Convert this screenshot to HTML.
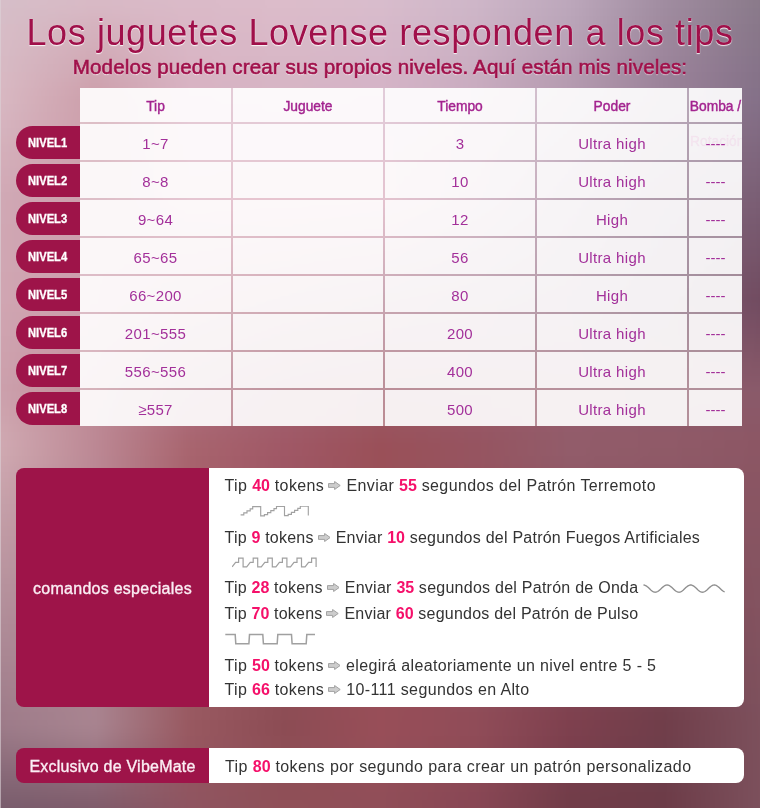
<!DOCTYPE html>
<html><head><meta charset="utf-8">
<style>
*{margin:0;padding:0;box-sizing:border-box}
html,body{width:760px;height:809px;overflow:hidden;background:#a0707c}
body{position:relative;font-family:"Liberation Sans",sans-serif}
#bg{position:absolute;left:0;top:0;width:760px;height:809px;filter:blur(4px)}
#bg div{position:absolute;left:-20px;width:800px;height:8px;background-size:800px 8px}
#bgwrap{position:absolute;left:0;top:0;width:760px;height:809px;overflow:hidden}
.abs{position:absolute}
.title{position:absolute;left:0;width:760px;text-align:center;color:#a0104a;white-space:nowrap}
#t1{top:13px;font-size:36px;line-height:40px;letter-spacing:0.6px;text-shadow:0 1px 1px rgba(255,255,255,.85),0 0 1px rgba(255,255,255,.6)}
#t2{top:55px;letter-spacing:0.1px;font-size:20.6px;line-height:24px;-webkit-text-stroke:0.6px #a0104a;text-shadow:0 1px 1px rgba(255,255,255,.8)}
#tbl{position:absolute;left:80px;top:88px;width:662px;height:338px;overflow:hidden}
.gap{position:absolute;background:rgba(255,255,255,.33)}
.c{position:absolute;background:rgba(255,255,255,.87);text-align:center;white-space:nowrap;overflow:visible}
.h{color:#a3238f;font-size:13.8px;-webkit-text-stroke:0.4px #a3238f}
.d{color:#a3309a;font-size:15px;letter-spacing:0.35px}
.lab{position:absolute;left:16px;width:64px;height:33px;background:#9e1449;border-radius:16.5px 0 0 16.5px;color:#fff;font-weight:bold;font-size:13px;line-height:33px;white-space:nowrap}
.lab span{position:absolute;left:12px;top:0.8px;transform:scaleX(0.86);transform-origin:0 50%;-webkit-text-stroke:0.3px #fff}
.pl{position:absolute;background:#9e1449;color:#fbeef4}
.pr{position:absolute;background:#fff;color:#333}
.ln{position:absolute;left:224.5px;font-size:16px;line-height:25px;letter-spacing:0.33px;white-space:nowrap;color:#333}
.n{color:#f5106a;font-weight:bold;letter-spacing:0}
.arr{display:inline-block;width:12.6px;height:9px;vertical-align:1px;margin:0 0.8px 0 -0.8px}
</style></head><body>
<div id="bgwrap"><div id="bg">
<div style="top:-48px;background:linear-gradient(90deg,#d6bec8 20px,#d8bac6 115px,#dabac8 210px,#dcbcca 305px,#d8bccc 400px,#ceb6c8 495px,#bca8bc 590px,#a08ca0 685px,#8a7a8a 780px)"></div>
<div style="top:-40px;background:linear-gradient(90deg,#d6bec8 20px,#d8bac6 115px,#dabac8 210px,#dcbcca 305px,#d8bccc 400px,#ceb6c8 495px,#bca8bc 590px,#a08ca0 685px,#8a7a8a 780px)"></div>
<div style="top:-32px;background:linear-gradient(90deg,#d6bec8 20px,#d8bac6 115px,#dabac8 210px,#dcbcca 305px,#d8bccc 400px,#ceb6c8 495px,#bca8bc 590px,#a08ca0 685px,#8a7a8a 780px)"></div>
<div style="top:-24px;background:linear-gradient(90deg,#d6bec8 20px,#d8bac6 115px,#dabac8 210px,#dcbcca 305px,#d8bccc 400px,#ceb6c8 495px,#bca8bc 590px,#a08ca0 685px,#8a7a8a 780px)"></div>
<div style="top:-16px;background:linear-gradient(90deg,#d6bec8 20px,#d8bac6 115px,#dabac8 210px,#dcbcca 305px,#d8bccc 400px,#ceb6c8 495px,#bca8bc 590px,#a08ca0 685px,#8a7a8a 780px)"></div>
<div style="top:-8px;background:linear-gradient(90deg,#d6bec8 20px,#d8bac6 115px,#dabac8 210px,#dcbcca 305px,#d8bccc 400px,#ceb6c8 495px,#bca8bc 590px,#a08ca0 685px,#8a7a8a 780px)"></div>
<div style="top:0px;background:linear-gradient(90deg,#d6bec8 20px,#d8b9c5 115px,#dabac8 210px,#dcbcca 305px,#d8bccc 400px,#ceb6c8 495px,#bca7bb 590px,#a08ca0 685px,#8a7a8a 780px)"></div>
<div style="top:8px;background:linear-gradient(90deg,#d6bdc7 20px,#d7b7c3 115px,#dab9c7 210px,#dbbbc9 305px,#d8bbcb 400px,#cdb5c7 495px,#bba6ba 590px,#9f8b9f 685px,#89798a 780px)"></div>
<div style="top:16px;background:linear-gradient(90deg,#d6bdc7 20px,#d6b4c0 115px,#dab8c7 210px,#dbbac9 305px,#d7bacb 400px,#cdb4c6 495px,#baa5b9 590px,#9f8a9e 685px,#89788a 780px)"></div>
<div style="top:24px;background:linear-gradient(90deg,#d7bcc6 20px,#d5b2be 115px,#d9b8c6 210px,#dabac8 305px,#d7b9ca 400px,#ccb3c5 495px,#baa4b8 590px,#9e899e 685px,#887789 780px)"></div>
<div style="top:32px;background:linear-gradient(90deg,#d7bcc6 20px,#d4b0bc 115px,#d9b7c6 210px,#dab9c8 305px,#d7b8ca 400px,#ccb2c4 495px,#b9a2b7 590px,#9e889d 685px,#887689 780px)"></div>
<div style="top:40px;background:linear-gradient(90deg,#d7bbc5 20px,#d3aeba 115px,#d9b6c5 210px,#d9b8c7 305px,#d6b8c9 400px,#cbb1c4 495px,#b8a1b6 590px,#9d879c 685px,#877689 780px)"></div>
<div style="top:48px;background:linear-gradient(90deg,#d7bbc5 20px,#d2abb7 115px,#d9b6c5 210px,#d9b8c7 305px,#d6b7c9 400px,#cbb0c3 495px,#b8a0b5 590px,#9d869c 685px,#877589 780px)"></div>
<div style="top:56px;background:linear-gradient(90deg,#d7bac4 20px,#d1a9b5 115px,#d9b5c4 210px,#d8b7c6 305px,#d6b6c8 400px,#caafc2 495px,#b79eb4 590px,#9c859b 685px,#867489 780px)"></div>
<div style="top:64px;background:linear-gradient(90deg,#d7bac4 20px,#d0a7b3 115px,#d9b5c4 210px,#d8b7c6 305px,#d5b5c8 400px,#caaec1 495px,#b79db2 590px,#9c849b 685px,#867389 780px)"></div>
<div style="top:72px;background:linear-gradient(90deg,#d8b9c3 20px,#cfa5b1 115px,#d8b4c3 210px,#d7b6c5 305px,#d5b4c7 400px,#c9adc0 495px,#b69cb1 590px,#9b839a 685px,#857288 780px)"></div>
<div style="top:80px;background:linear-gradient(90deg,#d8b9c3 20px,#cea2ae 115px,#d8b3c3 210px,#d7b5c5 305px,#d5b4c7 400px,#c9acc0 495px,#b59bb0 590px,#9b8299 685px,#857288 780px)"></div>
<div style="top:88px;background:linear-gradient(90deg,#d8b8c2 20px,#cda0ac 115px,#d8b3c2 210px,#d6b5c4 305px,#d4b3c6 400px,#c8abbf 495px,#b599af 590px,#9a8199 685px,#847188 780px)"></div>
<div style="top:96px;background:linear-gradient(90deg,#d8b8c2 20px,#cc9eaa 115px,#d8b2c2 210px,#d6b4c4 305px,#d4b2c6 400px,#c8aabe 495px,#b498ae 590px,#9a8098 685px,#847088 780px)"></div>
<div style="top:104px;background:linear-gradient(90deg,#d7b7c1 20px,#cc9eaa 115px,#d8b1c2 210px,#d6b3c3 305px,#d4b1c5 400px,#c7a9bd 495px,#b296ac 590px,#987e96 685px,#836f86 780px)"></div>
<div style="top:112px;background:linear-gradient(90deg,#d7b5c0 20px,#cc9eaa 115px,#d8b1c1 210px,#d7b2c2 305px,#d5b0c4 400px,#c7a7bb 495px,#b194aa 590px,#977c94 685px,#826d85 780px)"></div>
<div style="top:120px;background:linear-gradient(90deg,#d6b4bf 20px,#cc9eaa 115px,#d8b0c1 210px,#d7b2c2 305px,#d5b0c3 400px,#c6a6ba 495px,#af92a8 590px,#957a92 685px,#826c83 780px)"></div>
<div style="top:128px;background:linear-gradient(90deg,#d5b3be 20px,#cc9eab 115px,#d8afc0 210px,#d8b1c1 305px,#d5afc2 400px,#c5a4b9 495px,#ae90a6 590px,#947890 685px,#816a82 780px)"></div>
<div style="top:136px;background:linear-gradient(90deg,#d5b2bc 20px,#cc9eab 115px,#d8afc0 210px,#d8b0c0 305px,#d6aec1 400px,#c5a3b8 495px,#ac8ea4 590px,#92768e 685px,#806980 780px)"></div>
<div style="top:144px;background:linear-gradient(90deg,#d4b0bb 20px,#cc9eab 115px,#d8aebf 210px,#d9afbf 305px,#d6adc0 400px,#c4a1b6 495px,#aa8ca2 590px,#90748c 685px,#7f677e 780px)"></div>
<div style="top:152px;background:linear-gradient(90deg,#d4afba 20px,#cc9eab 115px,#d8aebf 210px,#d9aebe 305px,#d6acbf 400px,#c4a0b5 495px,#a989a1 590px,#8f738b 685px,#7e667d 780px)"></div>
<div style="top:160px;background:linear-gradient(90deg,#d3aeb9 20px,#cc9eab 115px,#d8adbe 210px,#daaebe 305px,#d7acbe 400px,#c39eb4 495px,#a7879f 590px,#8d7189 685px,#7e647b 780px)"></div>
<div style="top:168px;background:linear-gradient(90deg,#d2acb8 20px,#cc9eab 115px,#d8acbe 210px,#daadbd 305px,#d7abbd 400px,#c29db2 495px,#a6859d 590px,#8c6f87 685px,#7d637a 780px)"></div>
<div style="top:176px;background:linear-gradient(90deg,#d2abb7 20px,#cc9eac 115px,#d8acbd 210px,#dbacbc 305px,#d7aabc 400px,#c29cb1 495px,#a4839b 590px,#8a6d85 685px,#7c6278 780px)"></div>
<div style="top:184px;background:linear-gradient(90deg,#d1aab6 20px,#cc9eac 115px,#d8abbd 210px,#dbabbb 305px,#d8a9bb 400px,#c19ab0 495px,#a28199 590px,#886b83 685px,#7b6076 780px)"></div>
<div style="top:192px;background:linear-gradient(90deg,#d0a9b5 20px,#cc9eac 115px,#d8aabc 210px,#dcaaba 305px,#d8a8ba 400px,#c099af 495px,#a17f97 590px,#876981 685px,#7a5f75 780px)"></div>
<div style="top:200px;background:linear-gradient(90deg,#d0a8b4 20px,#cc9eac 115px,#d7a9bb 210px,#dba8b8 305px,#d6a6b8 400px,#bf97ac 495px,#9f7d95 590px,#86687f 685px,#7a5d73 780px)"></div>
<div style="top:208px;background:linear-gradient(90deg,#d0a8b4 20px,#cc9eac 115px,#d6a7b8 210px,#d8a5b5 305px,#d3a3b5 400px,#bc94a9 495px,#9e7c93 590px,#85677e 685px,#795c72 780px)"></div>
<div style="top:216px;background:linear-gradient(90deg,#d0a8b4 20px,#cc9eac 115px,#d4a5b6 210px,#d6a2b2 305px,#d09fb1 400px,#ba91a6 495px,#9d7a92 590px,#84667d 685px,#785a70 780px)"></div>
<div style="top:224px;background:linear-gradient(90deg,#d0a7b3 20px,#cc9dac 115px,#d2a3b4 210px,#d39faf 305px,#cd9cae 400px,#b78ea3 495px,#9c7990 590px,#83657c 685px,#77596e 780px)"></div>
<div style="top:232px;background:linear-gradient(90deg,#d0a7b3 20px,#cc9dac 115px,#d1a1b1 210px,#d09cac 305px,#ca98aa 400px,#b48ba0 495px,#9a788e 590px,#82647b 685px,#77576d 780px)"></div>
<div style="top:240px;background:linear-gradient(90deg,#d0a7b3 20px,#cc9dac 115px,#cf9faf 210px,#ce99a9 305px,#c695a7 400px,#b2889d 495px,#99768c 590px,#82637a 685px,#76566b 780px)"></div>
<div style="top:248px;background:linear-gradient(90deg,#d0a7b3 20px,#cc9dac 115px,#ce9cac 210px,#cb96a6 305px,#c391a3 400px,#af859a 495px,#98758b 590px,#816279 685px,#75546a 780px)"></div>
<div style="top:256px;background:linear-gradient(90deg,#d0a7b3 20px,#cc9dac 115px,#cc9aaa 210px,#c993a3 305px,#c08ea0 400px,#ad8297 495px,#967389 590px,#806178 685px,#755368 780px)"></div>
<div style="top:264px;background:linear-gradient(90deg,#d0a7b3 20px,#cc9dac 115px,#ca98a8 210px,#c690a0 305px,#bd8a9c 400px,#aa8094 495px,#957287 590px,#7f6076 685px,#745166 780px)"></div>
<div style="top:272px;background:linear-gradient(90deg,#d0a6b2 20px,#cc9cac 115px,#c996a5 210px,#c48d9d 305px,#ba8799 400px,#a87d91 495px,#947085 590px,#7e5f75 685px,#735065 780px)"></div>
<div style="top:280px;background:linear-gradient(90deg,#d0a6b2 20px,#cc9cac 115px,#c794a3 210px,#c18a9a 305px,#b68395 400px,#a57a8e 495px,#936f84 590px,#7e5e74 685px,#724e63 780px)"></div>
<div style="top:288px;background:linear-gradient(90deg,#d0a6b2 20px,#cc9cac 115px,#c692a0 210px,#bf8797 305px,#b38092 400px,#a3778b 495px,#916d82 590px,#7d5d73 685px,#724d62 780px)"></div>
<div style="top:296px;background:linear-gradient(90deg,#d0a6b2 20px,#cc9cac 115px,#c4909e 210px,#bc8494 305px,#b07c8e 400px,#a07488 495px,#906c80 590px,#7c5c72 685px,#714b60 780px)"></div>
<div style="top:304px;background:linear-gradient(90deg,#d0a5b1 20px,#cb9baa 115px,#c28d9b 210px,#ba8191 305px,#ae798a 400px,#9f7285 495px,#906b7e 590px,#7e5c71 685px,#734c61 780px)"></div>
<div style="top:312px;background:linear-gradient(90deg,#cfa5b1 20px,#ca99a8 115px,#c08a99 210px,#b77e8d 305px,#ac7687 400px,#9f6f82 495px,#91697c 590px,#7f5c71 685px,#754e62 780px)"></div>
<div style="top:320px;background:linear-gradient(90deg,#cfa4b0 20px,#c998a7 115px,#be8796 210px,#b57a8a 305px,#aa7283 400px,#9e6d7f 495px,#91687b 590px,#815b70 685px,#784f63 780px)"></div>
<div style="top:328px;background:linear-gradient(90deg,#cfa4b0 20px,#c896a5 115px,#bc8593 210px,#b27786 305px,#a86f80 400px,#9d6b7d 495px,#916679 590px,#825b6f 685px,#7a5064 780px)"></div>
<div style="top:336px;background:linear-gradient(90deg,#cea3af 20px,#c795a3 115px,#ba8291 210px,#b07483 305px,#a66c7c 400px,#9c687a 495px,#926577 590px,#845b6e 685px,#7c5264 780px)"></div>
<div style="top:344px;background:linear-gradient(90deg,#cea3af 20px,#c693a1 115px,#b87f8e 210px,#ad7180 305px,#a46979 400px,#9c6677 495px,#926375 590px,#865b6e 685px,#7e5365 780px)"></div>
<div style="top:352px;background:linear-gradient(90deg,#cea2ae 20px,#c592a0 115px,#b67c8b 210px,#ab6e7c 305px,#a26675 400px,#9b6474 495px,#926274 590px,#875b6d 685px,#815466 780px)"></div>
<div style="top:360px;background:linear-gradient(90deg,#cda2ae 20px,#c3919e 115px,#b47989 210px,#a86a79 305px,#a06272 400px,#9a6271 495px,#936172 590px,#895b6c 685px,#835667 780px)"></div>
<div style="top:368px;background:linear-gradient(90deg,#cda1ad 20px,#c28f9c 115px,#b27686 210px,#a66776 305px,#9e5f6e 400px,#9a5f6e 495px,#935f70 590px,#8a5a6c 685px,#855768 780px)"></div>
<div style="top:376px;background:linear-gradient(90deg,#cca1ad 20px,#c18e9a 115px,#b07483 210px,#a36472 305px,#9c5c6a 400px,#995d6c 495px,#945e6e 590px,#8c5a6b 685px,#875869 780px)"></div>
<div style="top:384px;background:linear-gradient(90deg,#cca0ac 20px,#c08c98 115px,#ae7181 210px,#a1616f 305px,#9a5967 400px,#985b69 495px,#945c6c 590px,#8e5a6a 685px,#895a6a 780px)"></div>
<div style="top:392px;background:linear-gradient(90deg,#cca1ad 20px,#c08c98 115px,#ad6f7e 210px,#a05f6d 305px,#9a5765 400px,#985967 495px,#945c6c 590px,#8e5a6a 685px,#8a5a69 780px)"></div>
<div style="top:400px;background:linear-gradient(90deg,#cda2ad 20px,#bf8b97 115px,#ad6d7c 210px,#a05e6c 305px,#9a5663 400px,#985966 495px,#945c6c 590px,#8e5a6a 685px,#8a5969 780px)"></div>
<div style="top:408px;background:linear-gradient(90deg,#cea4ae 20px,#be8a96 115px,#ac6b79 210px,#a05d6b 305px,#9a5561 400px,#975865 495px,#935c6b 590px,#8f5a69 685px,#8b5868 780px)"></div>
<div style="top:416px;background:linear-gradient(90deg,#cea5af 20px,#be8a96 115px,#ab6a77 210px,#a05c6a 305px,#9a545f 400px,#975764 495px,#935c6b 590px,#8f5a69 685px,#8b5867 780px)"></div>
<div style="top:424px;background:linear-gradient(90deg,#cfa7b0 20px,#bd8995 115px,#aa6874 210px,#a05b69 305px,#9a535d 400px,#975663 495px,#935c6b 590px,#8f5a69 685px,#8b5766 780px)"></div>
<div style="top:432px;background:linear-gradient(90deg,#cfa8b1 20px,#bd8995 115px,#a96671 210px,#a05a68 305px,#9a525b 400px,#965562 495px,#925c6a 590px,#905a68 685px,#8c5765 780px)"></div>
<div style="top:440px;background:linear-gradient(90deg,#d0a9b2 20px,#bc8894 115px,#a8656f 210px,#a05866 305px,#9a5059 400px,#965460 495px,#925c6a 590px,#905a68 685px,#8c5664 780px)"></div>
<div style="top:448px;background:linear-gradient(90deg,#cfa9b1 20px,#bc8894 115px,#a8646e 210px,#a05866 305px,#9a5058 400px,#965460 495px,#925c6a 590px,#8f5a67 685px,#8c5664 780px)"></div>
<div style="top:456px;background:linear-gradient(90deg,#cea8b0 20px,#bb8894 115px,#a7636d 210px,#9f5765 305px,#9a5058 400px,#965460 495px,#915b69 590px,#8f5967 685px,#8b5664 780px)"></div>
<div style="top:464px;background:linear-gradient(90deg,#cca6af 20px,#bb8894 115px,#a7636d 210px,#9f5765 305px,#9a5058 400px,#96535f 495px,#915a68 590px,#8e5866 685px,#8b5663 780px)"></div>
<div style="top:472px;background:linear-gradient(90deg,#cba5ae 20px,#ba8894 115px,#a6636d 210px,#9e5764 305px,#9a5058 400px,#95535f 495px,#905967 590px,#8d5765 685px,#8a5563 780px)"></div>
<div style="top:480px;background:linear-gradient(90deg,#c9a4ac 20px,#b98793 115px,#a6626c 210px,#9d5664 305px,#9a5058 400px,#95535f 495px,#8f5866 590px,#8c5664 685px,#8a5563 780px)"></div>
<div style="top:488px;background:linear-gradient(90deg,#c8a2ab 20px,#b98793 115px,#a5626c 210px,#9d5663 305px,#9a5058 400px,#95535f 495px,#8f5866 590px,#8b5663 685px,#895563 780px)"></div>
<div style="top:496px;background:linear-gradient(90deg,#c6a1aa 20px,#b88793 115px,#a5626b 210px,#9c5663 305px,#9a5058 400px,#95525e 495px,#8e5765 590px,#8a5562 685px,#895562 780px)"></div>
<div style="top:504px;background:linear-gradient(90deg,#c5a0a9 20px,#b88793 115px,#a5616b 210px,#9c5562 305px,#9a5058 400px,#95525e 495px,#8e5664 590px,#895461 685px,#895562 780px)"></div>
<div style="top:512px;background:linear-gradient(90deg,#c39ea8 20px,#b78793 115px,#a4616b 210px,#9b5562 305px,#9a5058 400px,#95525e 495px,#8d5563 590px,#885361 685px,#885562 780px)"></div>
<div style="top:520px;background:linear-gradient(90deg,#c29da6 20px,#b78793 115px,#a4616a 210px,#9b5561 305px,#994f58 400px,#94525e 495px,#8d5462 590px,#875260 685px,#885462 780px)"></div>
<div style="top:528px;background:linear-gradient(90deg,#c09ba5 20px,#b68793 115px,#a3606a 210px,#9a5461 305px,#994f58 400px,#94525e 495px,#8c5462 590px,#86525f 685px,#875462 780px)"></div>
<div style="top:536px;background:linear-gradient(90deg,#bf9aa4 20px,#b58793 115px,#a36069 210px,#995460 305px,#994f58 400px,#94515d 495px,#8b5361 590px,#85515e 685px,#875461 780px)"></div>
<div style="top:544px;background:linear-gradient(90deg,#bd99a3 20px,#b58793 115px,#a26069 210px,#995460 305px,#994f58 400px,#94515d 495px,#8b5260 590px,#84505d 685px,#865461 780px)"></div>
<div style="top:552px;background:linear-gradient(90deg,#bc97a2 20px,#b48692 115px,#a25f69 210px,#98535f 305px,#994f58 400px,#94515d 495px,#8a515f 590px,#844f5c 685px,#865461 780px)"></div>
<div style="top:560px;background:linear-gradient(90deg,#ba96a1 20px,#b48692 115px,#a15f68 210px,#98535f 305px,#994f58 400px,#94515d 495px,#8a505e 590px,#834e5c 685px,#855461 780px)"></div>
<div style="top:568px;background:linear-gradient(90deg,#b9959f 20px,#b38692 115px,#a15f68 210px,#97535e 305px,#994f58 400px,#93505c 495px,#89505e 590px,#824e5b 685px,#855360 780px)"></div>
<div style="top:576px;background:linear-gradient(90deg,#b7939e 20px,#b38692 115px,#a05e67 210px,#97525d 305px,#994f58 400px,#93505c 495px,#894f5d 590px,#814d5a 685px,#845360 780px)"></div>
<div style="top:584px;background:linear-gradient(90deg,#b6929d 20px,#b28692 115px,#a05e67 210px,#96525d 305px,#994f58 400px,#93505c 495px,#884e5c 590px,#804c59 685px,#845360 780px)"></div>
<div style="top:592px;background:linear-gradient(90deg,#b4919c 20px,#b18692 115px,#a05e67 210px,#95525c 305px,#994f58 400px,#93505c 495px,#874d5b 590px,#7f4b58 685px,#845360 780px)"></div>
<div style="top:600px;background:linear-gradient(90deg,#b38f9b 20px,#b18692 115px,#9f5d66 210px,#95515c 305px,#994f58 400px,#93505c 495px,#874c5a 590px,#7e4a57 685px,#835360 780px)"></div>
<div style="top:608px;background:linear-gradient(90deg,#b18e99 20px,#b08692 115px,#9f5d66 210px,#94515b 305px,#994f58 400px,#924f5b 495px,#864c5a 590px,#7d4a56 685px,#83525f 780px)"></div>
<div style="top:616px;background:linear-gradient(90deg,#b08c98 20px,#b08692 115px,#9e5d65 210px,#94515b 305px,#994f58 400px,#924f5b 495px,#864b59 590px,#7c4956 685px,#82525f 780px)"></div>
<div style="top:624px;background:linear-gradient(90deg,#af8b97 20px,#af8591 115px,#9e5c65 210px,#93505a 305px,#994f58 400px,#924f5b 495px,#854a58 590px,#7b4855 685px,#82525f 780px)"></div>
<div style="top:632px;background:linear-gradient(90deg,#ad8a96 20px,#af8591 115px,#9d5c65 210px,#93505a 305px,#994f58 400px,#924f5b 495px,#854957 590px,#7a4754 685px,#81525f 780px)"></div>
<div style="top:640px;background:linear-gradient(90deg,#ac8895 20px,#ae8591 115px,#9d5c64 210px,#925059 305px,#994f58 400px,#924e5a 495px,#844856 590px,#7a4653 685px,#81525e 780px)"></div>
<div style="top:648px;background:linear-gradient(90deg,#aa8793 20px,#ad8591 115px,#9c5b64 210px,#914f59 305px,#994f58 400px,#924e5a 495px,#834856 590px,#794652 685px,#80525e 780px)"></div>
<div style="top:656px;background:linear-gradient(90deg,#a98692 20px,#ad8591 115px,#9c5b63 210px,#914f58 305px,#984e58 400px,#914e5a 495px,#834755 590px,#784551 685px,#80515e 780px)"></div>
<div style="top:664px;background:linear-gradient(90deg,#a78491 20px,#ac8591 115px,#9b5b63 210px,#904f58 305px,#984e58 400px,#914e5a 495px,#824654 590px,#774450 685px,#7f515e 780px)"></div>
<div style="top:672px;background:linear-gradient(90deg,#a68390 20px,#ac8591 115px,#9b5a63 210px,#904e57 305px,#984e58 400px,#914d59 495px,#824553 590px,#764350 685px,#7f515d 780px)"></div>
<div style="top:680px;background:linear-gradient(90deg,#a4828f 20px,#ab8591 115px,#9b5a62 210px,#8f4e57 305px,#984e58 400px,#914d59 495px,#814452 590px,#75424f 685px,#7f515d 780px)"></div>
<div style="top:688px;background:linear-gradient(90deg,#a3808d 20px,#ab8591 115px,#9a5a62 210px,#8f4e56 305px,#984e58 400px,#914d59 495px,#814452 590px,#74424e 685px,#7e515d 780px)"></div>
<div style="top:696px;background:linear-gradient(90deg,#a17f8c 20px,#aa8490 115px,#9a5961 210px,#8e4d56 305px,#984e58 400px,#914d59 495px,#804351 590px,#73414d 685px,#7e515d 780px)"></div>
<div style="top:704px;background:linear-gradient(90deg,#a07d8b 20px,#a98490 115px,#995961 210px,#8d4d55 305px,#984e58 400px,#904d59 495px,#7f4250 590px,#72404c 685px,#7d505d 780px)"></div>
<div style="top:712px;background:linear-gradient(90deg,#9e7c8a 20px,#a98490 115px,#995961 210px,#8d4d55 305px,#984e58 400px,#904c58 495px,#7f414f 590px,#713f4b 685px,#7d505c 780px)"></div>
<div style="top:720px;background:linear-gradient(90deg,#9d7b89 20px,#a88490 115px,#985860 210px,#8c4c54 305px,#984e58 400px,#904c58 495px,#7e404e 590px,#703e4a 685px,#7c505c 780px)"></div>
<div style="top:728px;background:linear-gradient(90deg,#9a7987 20px,#a6828e 115px,#985860 210px,#8c4c54 305px,#984e58 400px,#904c58 495px,#7d404e 590px,#703e4a 685px,#7c505c 780px)"></div>
<div style="top:736px;background:linear-gradient(90deg,#977684 20px,#a27e8a 115px,#975760 210px,#8d4d55 305px,#974e58 400px,#8f4b57 495px,#7c3f4d 590px,#6f3e4a 685px,#7c505c 780px)"></div>
<div style="top:744px;background:linear-gradient(90deg,#937381 20px,#9e7a87 115px,#965760 210px,#8d4d55 305px,#964e58 400px,#8e4b57 495px,#7b3f4d 590px,#6f3e4a 685px,#7c505c 780px)"></div>
<div style="top:752px;background:linear-gradient(90deg,#90707e 20px,#997583 115px,#955760 210px,#8d4d55 305px,#954e58 400px,#8d4a57 495px,#793f4c 590px,#6f3d49 685px,#7c505c 780px)"></div>
<div style="top:760px;background:linear-gradient(90deg,#8c6d7c 20px,#95717f 115px,#945660 210px,#8e4e56 305px,#944e58 400px,#8c4956 495px,#783e4b 590px,#6e3d49 685px,#7c505c 780px)"></div>
<div style="top:768px;background:linear-gradient(90deg,#886a79 20px,#916d7b 115px,#935660 210px,#8e4e56 305px,#944e58 400px,#8c4956 495px,#763e4b 590px,#6e3d49 685px,#7c505c 780px)"></div>
<div style="top:776px;background:linear-gradient(90deg,#856776 20px,#8d6978 115px,#925560 210px,#8f4f57 305px,#934e58 400px,#8b4855 495px,#753d4a 590px,#6d3d49 685px,#7c505c 780px)"></div>
<div style="top:784px;background:linear-gradient(90deg,#816473 20px,#896574 115px,#915560 210px,#8f4f57 305px,#924e58 400px,#8a4855 495px,#743d4a 590px,#6d3d49 685px,#7c505c 780px)"></div>
<div style="top:792px;background:linear-gradient(90deg,#7e6170 20px,#856170 115px,#905560 210px,#8f4f57 305px,#914e58 400px,#894755 495px,#723d49 590px,#6d3c48 685px,#7c505c 780px)"></div>
<div style="top:800px;background:linear-gradient(90deg,#7a5e6e 20px,#815d6c 115px,#8f5460 210px,#905058 305px,#904e58 400px,#884654 495px,#713c48 590px,#6c3c48 685px,#7c505c 780px)"></div>
<div style="top:808px;background:linear-gradient(90deg,#785c6c 20px,#7e5a6a 115px,#8e5460 210px,#905058 305px,#904e58 400px,#884654 495px,#703c48 590px,#6c3c48 685px,#7c505c 780px)"></div>
<div style="top:816px;background:linear-gradient(90deg,#785c6c 20px,#7e5a6a 115px,#8e5460 210px,#905058 305px,#904e58 400px,#884654 495px,#703c48 590px,#6c3c48 685px,#7c505c 780px)"></div>
<div style="top:824px;background:linear-gradient(90deg,#785c6c 20px,#7e5a6a 115px,#8e5460 210px,#905058 305px,#904e58 400px,#884654 495px,#703c48 590px,#6c3c48 685px,#7c505c 780px)"></div>
<div style="top:832px;background:linear-gradient(90deg,#785c6c 20px,#7e5a6a 115px,#8e5460 210px,#905058 305px,#904e58 400px,#884654 495px,#703c48 590px,#6c3c48 685px,#7c505c 780px)"></div>
<div style="top:840px;background:linear-gradient(90deg,#785c6c 20px,#7e5a6a 115px,#8e5460 210px,#905058 305px,#904e58 400px,#884654 495px,#703c48 590px,#6c3c48 685px,#7c505c 780px)"></div>
<div style="top:848px;background:linear-gradient(90deg,#785c6c 20px,#7e5a6a 115px,#8e5460 210px,#905058 305px,#904e58 400px,#884654 495px,#703c48 590px,#6c3c48 685px,#7c505c 780px)"></div>
<div style="top:856px;background:linear-gradient(90deg,#785c6c 20px,#7e5a6a 115px,#8e5460 210px,#905058 305px,#904e58 400px,#884654 495px,#703c48 590px,#6c3c48 685px,#7c505c 780px)"></div>
</div></div>
<div class="abs" style="left:0;top:0;width:1.2px;height:809px;background:rgba(220,210,215,.6)"></div>
<div class="abs" style="left:0;top:807.5px;width:760px;height:2px;background:#fff"></div>

<div id="t1" class="title">Los juguetes Lovense responden a los tips</div>
<div id="t2" class="title">Modelos pueden crear sus propios niveles. Aquí están mis niveles:</div>

<div id="tbl">
<div class="gap" style="left:0;top:0;width:662px;height:338px"></div>
<div class="c h" style="left:0px;top:0;width:151px;height:34px;line-height:34px;padding-top:1.5px">Tip</div>
<div class="c h" style="left:153px;top:0;width:150px;height:34px;line-height:34px;padding-top:1.5px">Juguete</div>
<div class="c h" style="left:305px;top:0;width:150px;height:34px;line-height:34px;padding-top:1.5px">Tiempo</div>
<div class="c h" style="left:457px;top:0;width:150px;height:34px;line-height:34px;padding-top:1.5px">Poder</div>
<div class="c h" style="left:609px;top:0;width:53px;height:34px;line-height:34px;padding-top:1.5px">Bomba /</div>
<div class="c d" style="left:0px;top:36px;width:151px;height:36px;line-height:36px;padding-top:1.7px">1~7</div>
<div class="c d" style="left:153px;top:36px;width:150px;height:36px;line-height:36px;padding-top:1.7px"></div>
<div class="c d" style="left:305px;top:36px;width:150px;height:36px;line-height:36px;padding-top:1.7px">3</div>
<div class="c d" style="left:457px;top:36px;width:150px;height:36px;line-height:36px;padding-top:1.7px">Ultra high</div>
<div class="c d" style="left:609px;top:36px;width:53px;height:36px;line-height:36px;padding-top:1.7px"><span style='letter-spacing:0'>----</span></div>
<div class="c d" style="left:0px;top:74px;width:151px;height:36px;line-height:36px;padding-top:1.7px">8~8</div>
<div class="c d" style="left:153px;top:74px;width:150px;height:36px;line-height:36px;padding-top:1.7px"></div>
<div class="c d" style="left:305px;top:74px;width:150px;height:36px;line-height:36px;padding-top:1.7px">10</div>
<div class="c d" style="left:457px;top:74px;width:150px;height:36px;line-height:36px;padding-top:1.7px">Ultra high</div>
<div class="c d" style="left:609px;top:74px;width:53px;height:36px;line-height:36px;padding-top:1.7px"><span style='letter-spacing:0'>----</span></div>
<div class="c d" style="left:0px;top:112px;width:151px;height:36px;line-height:36px;padding-top:1.7px">9~64</div>
<div class="c d" style="left:153px;top:112px;width:150px;height:36px;line-height:36px;padding-top:1.7px"></div>
<div class="c d" style="left:305px;top:112px;width:150px;height:36px;line-height:36px;padding-top:1.7px">12</div>
<div class="c d" style="left:457px;top:112px;width:150px;height:36px;line-height:36px;padding-top:1.7px">High</div>
<div class="c d" style="left:609px;top:112px;width:53px;height:36px;line-height:36px;padding-top:1.7px"><span style='letter-spacing:0'>----</span></div>
<div class="c d" style="left:0px;top:150px;width:151px;height:36px;line-height:36px;padding-top:1.7px">65~65</div>
<div class="c d" style="left:153px;top:150px;width:150px;height:36px;line-height:36px;padding-top:1.7px"></div>
<div class="c d" style="left:305px;top:150px;width:150px;height:36px;line-height:36px;padding-top:1.7px">56</div>
<div class="c d" style="left:457px;top:150px;width:150px;height:36px;line-height:36px;padding-top:1.7px">Ultra high</div>
<div class="c d" style="left:609px;top:150px;width:53px;height:36px;line-height:36px;padding-top:1.7px"><span style='letter-spacing:0'>----</span></div>
<div class="c d" style="left:0px;top:188px;width:151px;height:36px;line-height:36px;padding-top:1.7px">66~200</div>
<div class="c d" style="left:153px;top:188px;width:150px;height:36px;line-height:36px;padding-top:1.7px"></div>
<div class="c d" style="left:305px;top:188px;width:150px;height:36px;line-height:36px;padding-top:1.7px">80</div>
<div class="c d" style="left:457px;top:188px;width:150px;height:36px;line-height:36px;padding-top:1.7px">High</div>
<div class="c d" style="left:609px;top:188px;width:53px;height:36px;line-height:36px;padding-top:1.7px"><span style='letter-spacing:0'>----</span></div>
<div class="c d" style="left:0px;top:226px;width:151px;height:36px;line-height:36px;padding-top:1.7px">201~555</div>
<div class="c d" style="left:153px;top:226px;width:150px;height:36px;line-height:36px;padding-top:1.7px"></div>
<div class="c d" style="left:305px;top:226px;width:150px;height:36px;line-height:36px;padding-top:1.7px">200</div>
<div class="c d" style="left:457px;top:226px;width:150px;height:36px;line-height:36px;padding-top:1.7px">Ultra high</div>
<div class="c d" style="left:609px;top:226px;width:53px;height:36px;line-height:36px;padding-top:1.7px"><span style='letter-spacing:0'>----</span></div>
<div class="c d" style="left:0px;top:264px;width:151px;height:36px;line-height:36px;padding-top:1.7px">556~556</div>
<div class="c d" style="left:153px;top:264px;width:150px;height:36px;line-height:36px;padding-top:1.7px"></div>
<div class="c d" style="left:305px;top:264px;width:150px;height:36px;line-height:36px;padding-top:1.7px">400</div>
<div class="c d" style="left:457px;top:264px;width:150px;height:36px;line-height:36px;padding-top:1.7px">Ultra high</div>
<div class="c d" style="left:609px;top:264px;width:53px;height:36px;line-height:36px;padding-top:1.7px"><span style='letter-spacing:0'>----</span></div>
<div class="c d" style="left:0px;top:302px;width:151px;height:36px;line-height:36px;padding-top:1.7px">≥557</div>
<div class="c d" style="left:153px;top:302px;width:150px;height:36px;line-height:36px;padding-top:1.7px"></div>
<div class="c d" style="left:305px;top:302px;width:150px;height:36px;line-height:36px;padding-top:1.7px">500</div>
<div class="c d" style="left:457px;top:302px;width:150px;height:36px;line-height:36px;padding-top:1.7px">Ultra high</div>
<div class="c d" style="left:609px;top:302px;width:53px;height:36px;line-height:36px;padding-top:1.7px"><span style='letter-spacing:0'>----</span></div>
<div class="abs" style="left:610px;top:36px;width:60px;height:36px;line-height:36px;padding-top:0px;color:rgba(230,90,190,.07);font-size:13.8px;-webkit-text-stroke:0.4px rgba(230,90,190,.07);white-space:nowrap">Rotación</div>
</div>
<div class="lab" style="top:125.7px"><span>NIVEL1</span></div>
<div class="lab" style="top:163.7px"><span>NIVEL2</span></div>
<div class="lab" style="top:201.7px"><span>NIVEL3</span></div>
<div class="lab" style="top:239.7px"><span>NIVEL4</span></div>
<div class="lab" style="top:277.7px"><span>NIVEL5</span></div>
<div class="lab" style="top:315.7px"><span>NIVEL6</span></div>
<div class="lab" style="top:353.7px"><span>NIVEL7</span></div>
<div class="lab" style="top:391.7px"><span>NIVEL8</span></div>

<!-- commands panel -->
<div class="pl" style="left:16px;top:468px;width:193px;height:239px;border-radius:8px 0 0 8px"></div>
<div class="pr" style="left:209px;top:468px;width:535px;height:239px;border-radius:0 8px 8px 0"></div>
<div class="abs" style="left:16px;top:575.5px;width:193px;text-align:center;color:#fbeef4;font-size:16px;line-height:25px;letter-spacing:0.26px;-webkit-text-stroke:0.35px #fbeef4;white-space:nowrap">comandos especiales</div>

<div class="ln" style="top:473.0px;letter-spacing:0.390px">Tip <span class="n">40</span> tokens <svg class="arr" viewBox="0 0 12.6 9"><path d="M0.5 2.6H6.6V0.5L12.2 4.5L6.6 8.5V6.4H0.5Z" fill="#cdcdcd" stroke="#a2a2a2" stroke-width="1"/></svg> Enviar <span class="n">55</span> segundos del Patrón Terremoto</div>
<div class="ln" style="top:524.7px;letter-spacing:0.240px">Tip <span class="n">9</span> tokens <svg class="arr" viewBox="0 0 12.6 9"><path d="M0.5 2.6H6.6V0.5L12.2 4.5L6.6 8.5V6.4H0.5Z" fill="#cdcdcd" stroke="#a2a2a2" stroke-width="1"/></svg> Enviar <span class="n">10</span> segundos del Patrón Fuegos Artificiales</div>
<div class="ln" style="top:575.4px;letter-spacing:0.255px">Tip <span class="n">28</span> tokens <svg class="arr" viewBox="0 0 12.6 9"><path d="M0.5 2.6H6.6V0.5L12.2 4.5L6.6 8.5V6.4H0.5Z" fill="#cdcdcd" stroke="#a2a2a2" stroke-width="1"/></svg> Enviar <span class="n">35</span> segundos del Patrón de Onda</div>
<div class="ln" style="top:600.7px;letter-spacing:0.230px">Tip <span class="n">70</span> tokens <svg class="arr" viewBox="0 0 12.6 9"><path d="M0.5 2.6H6.6V0.5L12.2 4.5L6.6 8.5V6.4H0.5Z" fill="#cdcdcd" stroke="#a2a2a2" stroke-width="1"/></svg> Enviar <span class="n">60</span> segundos del Patrón de Pulso</div>
<div class="ln" style="top:652.8px;letter-spacing:0.350px">Tip <span class="n">50</span> tokens <svg class="arr" viewBox="0 0 12.6 9"><path d="M0.5 2.6H6.6V0.5L12.2 4.5L6.6 8.5V6.4H0.5Z" fill="#cdcdcd" stroke="#a2a2a2" stroke-width="1"/></svg> elegirá aleatoriamente un nivel entre 5 - 5</div>
<div class="ln" style="top:677.3px;letter-spacing:0.370px">Tip <span class="n">66</span> tokens <svg class="arr" viewBox="0 0 12.6 9"><path d="M0.5 2.6H6.6V0.5L12.2 4.5L6.6 8.5V6.4H0.5Z" fill="#cdcdcd" stroke="#a2a2a2" stroke-width="1"/></svg> 10-111 segundos en Alto</div>
<svg class="abs" style="left:240px;top:506px" width="70" height="11" viewBox="0 0 70 11"><path d="M0.6 8.8 h3.2 v-2 h3.2 v-2 h3.2 v-2 h2.5 v-2.2 h8 v9.2 h3.7 v-1.2 h3.2 v-2 h3.2 v-2 h3.2 v-2 h2.5 v-2.2 h8 v9.2 h3.7 v-1.2 h3.2 v-2 h3.2 v-2 h3.2 v-2 h2.5 v-2.2 h8 v9.2" fill="none" stroke="#a2a2a2" stroke-width="1.15"/></svg>
<svg class="abs" style="left:232px;top:557px" width="86" height="12" viewBox="0 0 86 12"><path d="M0.1 9.9 l3.5 -4.6 h3 v-4.2 h4.5 v8.8 h3.6 l3.5 -4.6 h3 v-4.2 h4.5 v8.8 h3.6 l3.5 -4.6 h3 v-4.2 h4.5 v8.8 h3.6 l3.5 -4.6 h3 v-4.2 h4.5 v8.8 h3.6 l3.5 -4.6 h3 v-4.2 h4.5 v8.8 h3.6 l3.5 -4.6 h3 v-4.2 h4.5 v8.8" fill="none" stroke="#a0a0a0" stroke-width="1.2"/></svg>
<svg class="abs" style="left:643px;top:583.7px" width="83" height="10" viewBox="0 0 83 10"><path d="M0.50 1.00 L1.01 1.03 L1.52 1.13 L2.02 1.29 L2.53 1.51 L3.04 1.79 L3.55 2.12 L4.05 2.49 L4.56 2.91 L5.07 3.35 L5.58 3.82 L6.08 4.30 L6.59 4.78 L7.10 5.26 L7.60 5.74 L8.11 6.19 L8.62 6.61 L9.13 6.99 L9.64 7.33 L10.14 7.62 L10.65 7.86 L11.16 8.03 L11.67 8.15 L12.17 8.20 L12.68 8.18 L13.19 8.10 L13.70 7.95 L14.20 7.75 L14.71 7.48 L15.22 7.17 L15.72 6.80 L16.23 6.40 L16.74 5.96 L17.25 5.50 L17.76 5.03 L18.26 4.54 L18.77 4.06 L19.28 3.58 L19.79 3.13 L20.29 2.70 L20.80 2.30 L21.31 1.95 L21.82 1.65 L22.32 1.40 L22.83 1.20 L23.34 1.07 L23.85 1.01 L24.35 1.01 L24.86 1.07 L25.37 1.20 L25.88 1.39 L26.38 1.64 L26.89 1.95 L27.40 2.30 L27.91 2.69 L28.41 3.12 L28.92 3.58 L29.43 4.05 L29.94 4.54 L30.44 5.02 L30.95 5.50 L31.46 5.96 L31.97 6.40 L32.47 6.80 L32.98 7.17 L33.49 7.48 L33.99 7.75 L34.50 7.95 L35.01 8.10 L35.52 8.18 L36.02 8.20 L36.53 8.15 L37.04 8.04 L37.55 7.86 L38.05 7.62 L38.56 7.33 L39.07 6.99 L39.58 6.61 L40.09 6.19 L40.59 5.74 L41.10 5.27 L41.61 4.78 L42.12 4.30 L42.62 3.82 L43.13 3.35 L43.64 2.91 L44.14 2.50 L44.65 2.12 L45.16 1.79 L45.67 1.51 L46.17 1.29 L46.68 1.13 L47.19 1.03 L47.70 1.00 L48.20 1.03 L48.71 1.13 L49.22 1.29 L49.73 1.51 L50.23 1.79 L50.74 2.12 L51.25 2.49 L51.76 2.90 L52.27 3.35 L52.77 3.81 L53.28 4.29 L53.79 4.78 L54.30 5.26 L54.80 5.73 L55.31 6.18 L55.82 6.60 L56.33 6.99 L56.83 7.33 L57.34 7.62 L57.85 7.86 L58.36 8.03 L58.86 8.15 L59.37 8.20 L59.88 8.18 L60.39 8.10 L60.89 7.96 L61.40 7.75 L61.91 7.49 L62.41 7.17 L62.92 6.81 L63.43 6.40 L63.94 5.97 L64.45 5.51 L64.95 5.03 L65.46 4.54 L65.97 4.06 L66.47 3.58 L66.98 3.13 L67.49 2.70 L68.00 2.30 L68.51 1.95 L69.01 1.65 L69.52 1.40 L70.03 1.20 L70.53 1.07 L71.04 1.01 L71.55 1.01 L72.06 1.07 L72.56 1.20 L73.07 1.39 L73.58 1.64 L74.09 1.95 L74.59 2.30 L75.10 2.69 L75.61 3.12 L76.12 3.58 L76.62 4.05 L77.13 4.54 L77.64 5.02 L78.15 5.50 L78.66 5.96 L79.16 6.40 L79.67 6.80 L80.18 7.16 L80.69 7.48 L81.19 7.75 L81.70 7.95" fill="none" stroke="#8e8e8e" stroke-width="1.35"/></svg>
<svg class="abs" style="left:225px;top:633px" width="92" height="13" viewBox="0 0 92 13"><path d="M0.3 1.6 H10.2 L10.8 10.8 H23.9 L24.5 1.6 H37.8 L38.4 10.8 H52.2 L52.8 1.6 H66.5 L67.1 10.8 H81.2 L81.8 1.6 H90" fill="none" stroke="#a0a0a0" stroke-width="1.5"/></svg>

<!-- exclusive panel -->
<div class="pl" style="left:16px;top:748px;width:193px;height:35px;border-radius:8px 0 0 8px"></div>
<div class="pr" style="left:209px;top:748px;width:535px;height:35px;border-radius:0 8px 8px 0"></div>
<div class="abs" style="left:16px;top:753.5px;width:193px;text-align:center;color:#fbeef4;font-size:16px;line-height:25px;letter-spacing:0.22px;-webkit-text-stroke:0.35px #fbeef4;white-space:nowrap">Exclusivo de VibeMate</div>
<div class="ln" style="top:753.5px;left:225px;letter-spacing:0.415px">Tip <span class="n">80</span> tokens por segundo para crear un patrón personalizado</div>
</body></html>
